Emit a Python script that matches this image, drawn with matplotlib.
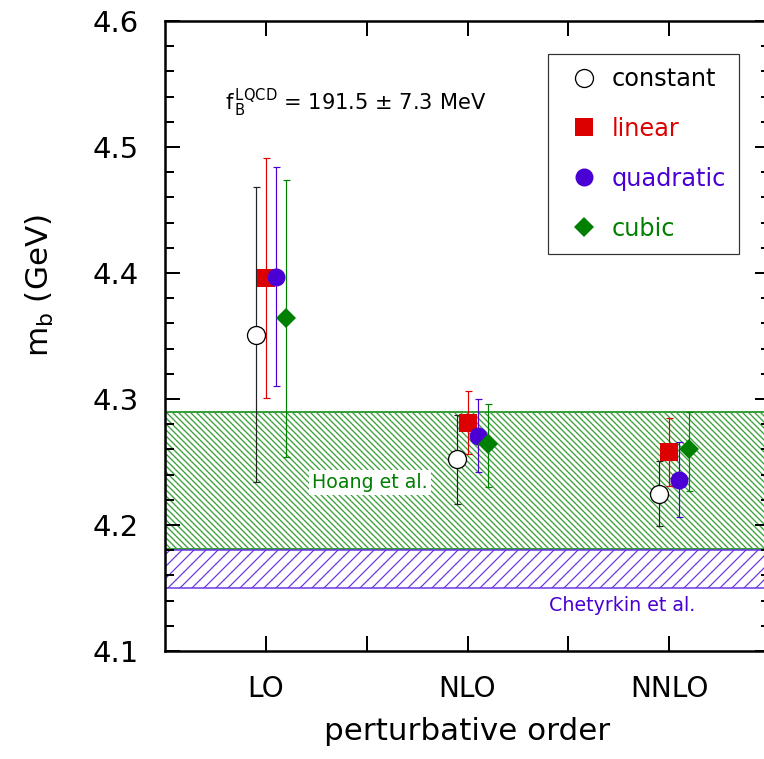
import matplotlib
matplotlib.use('Agg')
import matplotlib.pyplot as plt
from matplotlib.lines import Line2D
from matplotlib.ticker import MultipleLocator
import numpy as np

plt.rcParams['font.family'] = ['DejaVu Sans']
plt.rcParams['mathtext.fontset'] = 'dejavusans'

# perturbative orders (x positions of the tick labels)
orders = ['LO', 'NLO', 'NNLO']
order_pos = [1, 3, 5]
offsets = [-0.1, 0.0, 0.1, 0.2]   # small shift per fit so the points don't overlap

series = ['constant', 'linear', 'quadratic', 'cubic']
# central values of m_b (GeV) at LO, NLO, NNLO
m_constant = [4.351, 4.252, 4.225]
m_linear = [4.396, 4.281, 4.258]
m_quadratic = [4.397, 4.271, 4.236]
m_cubic = [4.364, 4.264, 4.260]
# error bar ends (lower, upper)
lo_constant = [4.234, 4.217, 4.199]
hi_constant = [4.468, 4.287, 4.251]
lo_linear = [4.301, 4.256, 4.231]
hi_linear = [4.491, 4.306, 4.285]
lo_quadratic = [4.310, 4.242, 4.206]
hi_quadratic = [4.484, 4.300, 4.266]
lo_cubic = [4.254, 4.230, 4.227]
hi_cubic = [4.474, 4.296, 4.290]

# reference bands
hoang = (4.181, 4.290)
chetyrkin = (4.150, 4.180)

black = '#000000'
red = '#dd0000'
blue = '#4a00d4'
green = '#008000'

vals = [m_constant, m_linear, m_quadratic, m_cubic]
los = [lo_constant, lo_linear, lo_quadratic, lo_cubic]
his = [hi_constant, hi_linear, hi_quadratic, hi_cubic]
styles = [
    dict(marker='o', ms=18, mfc='white', mec=black, mew=1.3),
    dict(marker='s', ms=17.5, mfc=red, mec=red, mew=0),
    dict(marker='o', ms=18, mfc=blue, mec=blue, mew=0),
    dict(marker='D', ms=14, mfc=green, mec=green, mew=0),
]
bar_colors = ['#222222', red, blue, green]
text_colors = [black, red, blue, green]

fig = plt.figure(figsize=(764 / 72, 759 / 72), dpi=72)
ax = fig.add_axes([165 / 764, 108 / 759, 605 / 764, 630 / 759])

plt.rcParams['hatch.linewidth'] = 1.3
ax.axhspan(*hoang, facecolor='white', edgecolor='#38a038', hatch='\\\\\\\\', lw=2, zorder=1)
plt.rcParams['hatch.linewidth'] = 1.2
ax.axhspan(*chetyrkin, facecolor='white', edgecolor='#6a35e6', hatch='//', lw=1.5, zorder=1)

for v, lo, hi, off, st, bc in zip(vals, los, his, offsets, styles, bar_colors):
    v = np.array(v)
    x = np.array(order_pos) + off
    yerr = [v - np.array(lo), np.array(hi) - v]
    ax.errorbar(x, v, yerr=yerr, fmt='none', ecolor=bc, elinewidth=1.2, capsize=3.5,
                capthick=1.2, zorder=3)
    ax.plot(x, v, ls='none', zorder=4, **st)

ax.text(0.595, 4.535, r'$\mathrm{f}_{\,\rm B}^{\,\rm LQCD}$ = 191.5 ± 7.3 MeV', fontsize=21,
        ha='left', va='center')
ax.text(2.03, 4.234, 'Hoang et al.', color=green, fontsize=19, ha='center', va='center',
        bbox=dict(facecolor='white', edgecolor='none', pad=3), zorder=2)
ax.text(4.53, 4.136, 'Chetyrkin et al.', color=blue, fontsize=19, ha='center', va='center')

ax.set_xlim(0, 6)
ax.set_ylim(4.1, 4.6)
ax.set_xticks([1, 2, 3, 4, 5])
ax.set_xticklabels(['LO', '', 'NLO', '', 'NNLO'])
ax.yaxis.set_major_locator(MultipleLocator(0.1))
ax.yaxis.set_minor_locator(MultipleLocator(0.02))
ax.tick_params(which='both', direction='in', top=True, right=True, width=2)
ax.tick_params(which='major', length=15, labelsize=28)
ax.tick_params(axis='y', which='major', labelsize=29)
ax.tick_params(which='minor', length=9)
ax.tick_params(axis='y', pad=26)
ax.tick_params(axis='x', pad=24)
for s in ax.spines.values():
    s.set_linewidth(2.5)

ax.set_xlabel('perturbative order', fontsize=31, labelpad=14)
ax.set_ylabel(r'm$_{\rm b}$ (GeV)', fontsize=31)
ax.yaxis.set_label_coords(-0.18, 0.58)

handles = []
for st in styles:
    handles.append(Line2D([], [], ls='none', marker=st['marker'], ms=st['ms'],
                          mfc=st['mfc'], mec=st['mec'], mew=st['mew']))
leg = ax.legend(handles, series, loc='upper left', bbox_to_anchor=(0.633, 0.948),
                borderaxespad=0, fontsize=24, frameon=True, fancybox=False,
                handlelength=1.9, handletextpad=0.2, labelspacing=1.08, borderpad=0.55)
leg.get_frame().set_edgecolor('black')
leg.get_frame().set_linewidth(1.2)
for t, c in zip(leg.get_texts(), text_colors):
    t.set_color(c)

fig.savefig('out.png', dpi=72)
